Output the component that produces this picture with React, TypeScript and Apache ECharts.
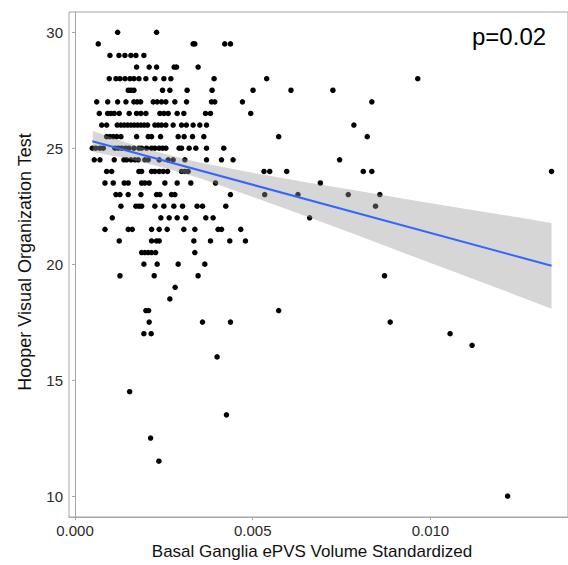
import React, { useEffect, useRef } from "react";
import * as echarts from "echarts";

// Hooper score levels and the ePVS values of the subjects at each level
const hooperScores = [30, 29.5, 29, 28.5, 28, 27.5, 27, 26.5, 26, 25.5, 25, 24.5, 24, 23.5, 23, 22.5, 22, 21.5, 21, 20.5, 20, 19.5, 19, 18.5, 18, 17.5, 17, 16.5, 16, 14.5, 13.5, 12.5, 11.5, 10];
const epvsAtScore: number[][] = [
  [0.001199, 0.002295],
  [0.000654, 0.003323, 0.003371, 0.004213, 0.004374],
  [0.000983, 0.001236, 0.001404, 0.001573, 0.001713, 0.001938],
  [0.001733, 0.002087, 0.002295, 0.002789, 0.002857, 0.003463],
  [0.000963, 0.001152, 0.001264, 0.001404, 0.001545, 0.001657, 0.001798, 0.001994, 0.002247, 0.0025, 0.002697, 0.003913, 0.005393, 0.009643],
  [0.001497, 0.001573, 0.001657, 0.002463, 0.002669, 0.003154, 0.003857, 0.005008, 0.006076, 0.007256],
  [0.00061, 0.000919, 0.001199, 0.001433, 0.001657, 0.00175, 0.001846, 0.0022, 0.002312, 0.002435, 0.002556, 0.002809, 0.003138, 0.00384, 0.003933, 0.004711, 0.008351],
  [0.000683, 0.000919, 0.001011, 0.001104, 0.001244, 0.001525, 0.001733, 0.001854, 0.001994, 0.002388, 0.0025, 0.002621, 0.002874, 0.003062, 0.003671, 0.003812, 0.004944],
  [0.00075, 0.00089, 0.001188, 0.001292, 0.001385, 0.00148, 0.001573, 0.001666, 0.001761, 0.001854, 0.001947, 0.002042, 0.002247, 0.00234, 0.002435, 0.002556, 0.002761, 0.002997, 0.003133, 0.003323, 0.003511, 0.0037, 0.007846],
  [0.00089, 0.000983, 0.001076, 0.001171, 0.001292, 0.001733, 0.002059, 0.002154, 0.002407, 0.002902, 0.00307, 0.003306, 0.003624, 0.00573, 0.008222],
  [0.000486, 0.000581, 0.000702, 0.000795, 0.001124, 0.001216, 0.001312, 0.001424, 0.001517, 0.001657, 0.001798, 0.001874, 0.002014, 0.002154, 0.002247, 0.002368, 0.002463, 0.002556, 0.00293, 0.002997, 0.003211, 0.003399, 0.0037, 0.004185],
  [0.000542, 0.000702, 0.001104, 0.001376, 0.001452, 0.001573, 0.001685, 0.001778, 0.001966, 0.002059, 0.002368, 0.002621, 0.002761, 0.00309, 0.0037, 0.004121, 0.004447, 0.007444],
  [0.00089, 0.001031, 0.001798, 0.001874, 0.002154, 0.002247, 0.002368, 0.00248, 0.002604, 0.002997, 0.00309, 0.003183, 0.005317, 0.005478, 0.005955, 0.00811, 0.008351, 0.013407],
  [0.000843, 0.001076, 0.001385, 0.001497, 0.001874, 0.001966, 0.002087, 0.002528, 0.002874, 0.003258, 0.003952, 0.006902],
  [0.001152, 0.001264, 0.001497, 0.001854, 0.002295, 0.002388, 0.002716, 0.002809, 0.004374, 0.005337, 0.006272, 0.007688, 0.008576],
  [0.001292, 0.001713, 0.001798, 0.001874, 0.002247, 0.0025, 0.002781, 0.003025, 0.003435, 0.003587, 0.004242, 0.008455],
  [0.001048, 0.002416, 0.002649, 0.002874, 0.003118, 0.00368, 0.003885, 0.006601],
  [0.000843, 0.001497, 0.00161, 0.002154, 0.002368, 0.002593, 0.003062, 0.003371, 0.004025, 0.004121, 0.004663],
  [0.001244, 0.002154, 0.002295, 0.002368, 0.003343, 0.003812, 0.004354, 0.004795],
  [0.001874, 0.001966, 0.002059, 0.002154, 0.002267, 0.003371],
  [0.001938, 0.002312, 0.002902, 0.003652],
  [0.001264, 0.002228, 0.003463, 0.008708],
  [0.002817],
  [0.002669],
  [0.001994, 0.00207, 0.00573],
  [0.002087, 0.003587, 0.004374, 0.008868],
  [0.001938, 0.002143, 0.010553],
  [0.011171],
  [0.003997],
  [0.001537],
  [0.004261],
  [0.002126],
  [0.00236],
  [0.012171],
];

// Fitted regression line (ends) and its confidence band
const fitX = [0.000486, 0.013407];
const fitY = [25.3, 19.93];
const bandX = [0.0005, 0.0015, 0.0025, 0.0035, 0.005, 0.0065, 0.008, 0.0095, 0.011, 0.0125, 0.013407];
const bandLower = [24.84, 24.55, 24.16, 23.72, 22.9, 22.07, 21.21, 20.34, 19.48, 18.61, 18.08];
const bandUpper = [25.74, 25.21, 24.76, 24.38, 23.94, 23.53, 23.15, 22.76, 22.38, 22.01, 21.78];

const xTicks = [0, 0.005, 0.01];
const yTicks = [10, 15, 20, 25, 30];

const FONT = "'Liberation Sans', Arial, sans-serif";

export default function App() {
  const ref = useRef<HTMLDivElement>(null);
  useEffect(() => {
    if (!ref.current) return;
    const chart = echarts.init(ref.current, undefined, { renderer: "svg" });

    const points: number[][] = [];
    hooperScores.forEach((s, i) => {
      epvsAtScore[i].forEach((x) => points.push([x, s]));
    });
    const bandData = bandX.map((x, i) => [x, bandLower[i], bandUpper[i]]);
    const fitData = fitX.map((x, i) => [x, fitY[i]]);

    chart.setOption({
      animation: false,
      backgroundColor: "#fff",
      textStyle: { fontFamily: FONT },
      grid: {
        left: 69,
        top: 12,
        right: -1,
        bottom: 48,
        show: true,
        borderColor: "#a6a6a6",
        borderWidth: 1,
      },
      xAxis: {
        type: "value",
        min: -0.000169,
        max: 0.01387,
        splitLine: { show: false },
        axisLine: { show: true, lineStyle: { color: "#a6a6a6", width: 1 } },
        axisTick: { show: true, length: 3, customValues: xTicks, lineStyle: { color: "#a6a6a6" } },
        axisLabel: {
          customValues: xTicks,
          formatter: (v: number) => v.toFixed(3),
          fontSize: 15,
          color: "#2a2a2a",
          margin: 6,
          fontFamily: FONT,
        },
      },
      yAxis: {
        type: "value",
        min: 9.095,
        max: 30.875,
        splitLine: { show: false },
        axisLine: { show: true, lineStyle: { color: "#a6a6a6", width: 1 } },
        axisTick: { show: true, length: 3, customValues: yTicks, lineStyle: { color: "#a6a6a6" } },
        axisLabel: {
          customValues: yTicks,
          fontSize: 15,
          color: "#2a2a2a",
          margin: 6,
          fontFamily: FONT,
        },
      },
      series: [
        {
          type: "scatter",
          data: points,
          symbolSize: 5.5,
          itemStyle: { color: "#000", opacity: 1 },
          z: 2,
        },
        {
          type: "custom",
          data: bandData,
          encode: { x: 0, y: [1, 2] },
          z: 3,
          silent: true,
          renderItem: (params: any, api: any) => {
            if (params.dataIndex !== 0) return null;
            const pts: number[][] = [];
            for (let i = 0; i < bandX.length; i++) pts.push(api.coord([bandX[i], bandUpper[i]]));
            for (let i = bandX.length - 1; i >= 0; i--) pts.push(api.coord([bandX[i], bandLower[i]]));
            return {
              type: "polygon",
              shape: { points: pts },
              style: { fill: "rgba(153,153,153,0.4)", stroke: "none" },
            };
          },
        },
        {
          type: "line",
          data: fitData,
          showSymbol: false,
          lineStyle: { color: "#3366FF", width: 2 },
          z: 4,
          silent: true,
        },
      ],
      graphic: [
        {
          type: "text",
          left: 472,
          top: 24,
          style: { text: "p=0.02", fontSize: 24, fill: "#000", fontFamily: FONT },
        },
        {
          type: "text",
          x: 312,
          y: 551,
          style: {
            text: "Basal Ganglia ePVS Volume Standardized",
            fontSize: 17,
            fill: "#111",
            fontFamily: FONT,
            align: "center",
            verticalAlign: "middle",
          },
        },
        {
          type: "text",
          x: 25,
          y: 262,
          rotation: Math.PI / 2,
          style: {
            text: "Hooper Visual Organization Test",
            fontSize: 18,
            fill: "#111",
            fontFamily: FONT,
            align: "center",
            verticalAlign: "middle",
          },
        },
      ],
    });
    return () => chart.dispose();
  }, []);
  return (
    <div
      ref={ref}
      style={{ position: "fixed", left: 0, top: 0, width: 568, height: 565, background: "#fff" }}
    />
  );
}
